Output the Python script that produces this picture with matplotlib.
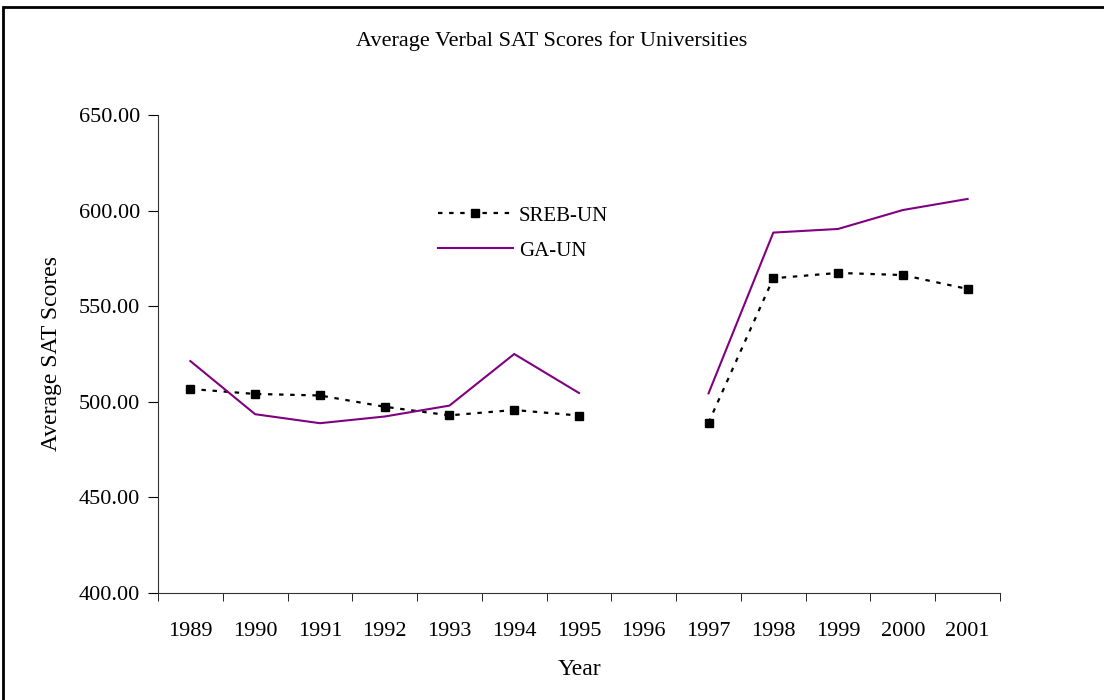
import numpy as np
import matplotlib.pyplot as plt
from matplotlib.patches import Rectangle

years = ['1989', '1990', '1991', '1992', '1993', '1994', '1995', '1996',
         '1997', '1998', '1999', '2000', '2001']
sreb_un = [506.7, 504.1, 503.3, 497.4, 492.9, 495.7, 492.8, np.nan,
           489.1, 564.6, 567.4, 566.3, 559.0]
ga_un = [521.3, 493.5, 488.8, 492.3, 498.0, 525.0, 504.6, np.nan,
         504.4, 588.5, 590.4, 600.3, 606.1]

plt.rcParams['font.family'] = ['Liberation Serif', 'DejaVu Serif']

fig = plt.figure(figsize=(11.04, 7), dpi=100)
ax = fig.add_axes([0.1431, 0.1529, 0.7627, 0.6828])

x = np.arange(len(years))
ax.plot(x, sreb_un, color='black', linestyle=(0, (2, 3)), linewidth=1.6,
        marker='s', markersize=6, label='SREB-UN')
ax.plot(x, ga_un, color='#800080', linewidth=1.5, label='GA-UN')

ax.set_xlim(-0.5, len(years) - 0.5)
ax.set_ylim(400, 650)
ax.set_yticks(np.arange(400, 651, 50))
ax.set_yticklabels([f'{v:.2f}' for v in np.arange(400, 651, 50)])
ax.set_xticks(x)
ax.set_xticklabels(years)
ax.set_xticks(np.arange(-0.5, len(years), 1), minor=True)
ax.tick_params(axis='x', which='major', length=0, pad=21, labelsize=16)
ax.tick_params(axis='x', which='minor', length=6, direction='out')
ax.tick_params(axis='y', length=7, direction='out', labelsize=16, pad=6)

for side in ['top', 'right']:
    ax.spines[side].set_visible(False)
for side in ['left', 'bottom']:
    ax.spines[side].set_color('#333333')

ax.set_xlabel('Year', fontsize=17, labelpad=13)
ax.set_ylabel('Average SAT Scores', fontsize=17, labelpad=12)
fig.text(0.5, 0.942, 'Average Verbal SAT Scores for Universities',
         ha='center', va='center', fontsize=16)

ax.legend(loc='upper left', bbox_to_anchor=(0.31, 0.849), frameon=False,
          fontsize=15, handlelength=3.6, handletextpad=0.3, labelspacing=0.75)

fig.add_artist(Rectangle((0.003, -0.05), 1.2, 1.04, transform=fig.transFigure,
                         fill=False, edgecolor='black', linewidth=2))

fig.savefig('out.png', dpi=100)
